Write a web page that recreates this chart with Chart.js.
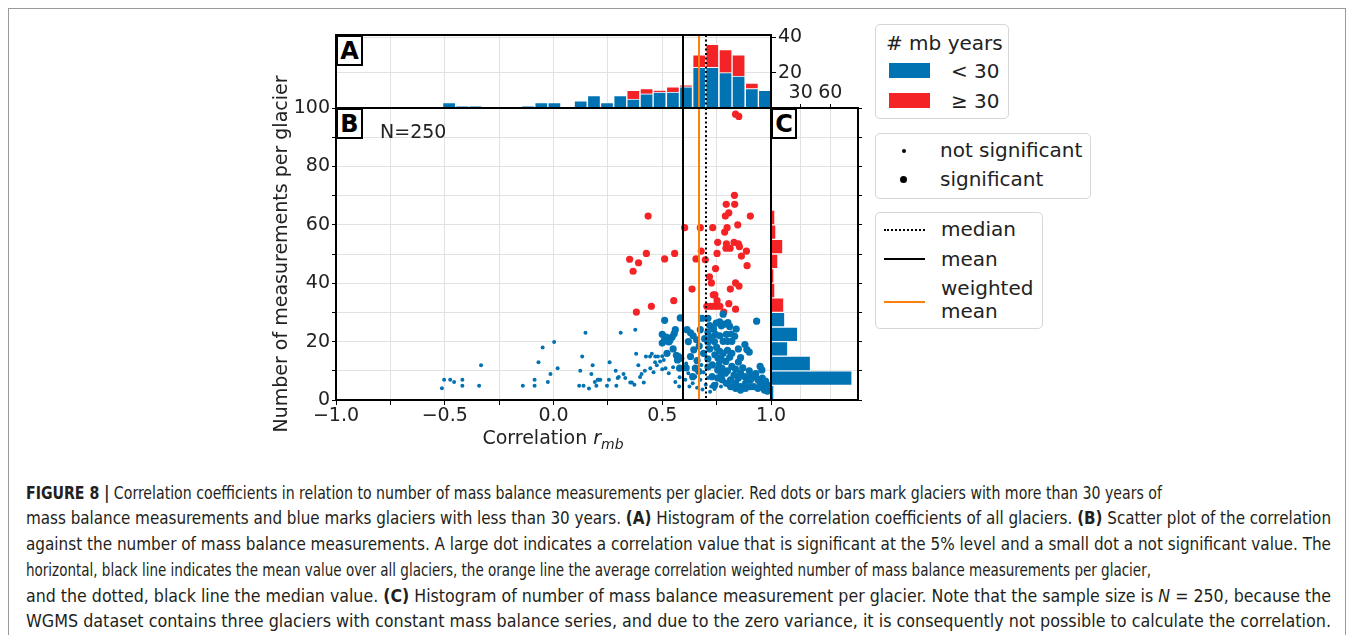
<!DOCTYPE html>
<html>
<head>
<meta charset="utf-8">
<script src="https://cdn.jsdelivr.net/npm/chart.js@4.4.1/dist/chart.umd.min.js"></script>
<style>
  body { margin: 0; background: #fff; }
  #page { position: relative; width: 1354px; height: 635px; overflow: hidden; font-family: "DejaVu Sans", sans-serif; color: #222; }
  .frame { position: absolute; left: 8px; top: 8px; width: 1336px; height: 660px; border: 1px solid #9a9a9a; }
  canvas { position: absolute; }
  .panel { position: absolute; background: #fff; border: 2px solid #000; box-sizing: border-box; font-weight: bold; font-size: 24px; color: #000; text-align: center; }
  .legend { position: absolute; border: 1px solid #d6d6d6; border-radius: 5px; background: #fff; box-sizing: border-box; }
  .lt { position: absolute; font-size: 20px; line-height: 22px; white-space: nowrap; color: #222; }
  .patch { position: absolute; width: 41px; height: 15px; }
  .dot { position: absolute; border-radius: 50%; background: #000; }
  .ln { position: absolute; width: 41px; height: 0; }
  .cap { position: absolute; left: 26px; font-family: "Liberation Sans Narrow", "DejaVu Sans Condensed", "Liberation Sans", sans-serif; font-size: 17px; color: #231f20; white-space: nowrap; transform-origin: 0 50%; }
</style>
</head>
<body>
<div id="page">
  <div class="frame"></div>
  <canvas id="histA" width="600" height="95" style="left:240px;top:20px"></canvas>
  <canvas id="scatterB" width="551" height="390" style="left:240px;top:50px"></canvas>
  <canvas id="histC" width="110" height="335" style="left:765px;top:70px"></canvas>

  <div class="panel" style="left:336px;top:35px;width:27px;height:31px;line-height:28px">A</div>
  <div class="panel" style="left:336px;top:108px;width:27px;height:31px;line-height:28px">B</div>
  <div class="panel" style="left:771px;top:108px;width:26px;height:31px;line-height:28px">C</div>
  <div class="lt" style="left:380px;top:120px;font-size:19px">N=250</div>

  <div id="xTitle" class="lt" style="left:453px;top:426px;width:200px;text-align:center;font-size:19px">Correlation <i>r</i><sub style="font-size:14px;font-style:italic">mb</sub></div>

  <div class="legend" style="left:875px;top:24px;width:134px;height:95px">
    <div class="lt" style="left:10px;top:7px"># mb years</div>
    <div class="patch" style="left:13px;top:38px;background:#0173b2"></div>
    <div class="lt" style="left:75px;top:35px">&lt; 30</div>
    <div class="patch" style="left:13px;top:68px;background:#f42326"></div>
    <div class="lt" style="left:75px;top:65px">&ge; 30</div>
  </div>

  <div class="legend" style="left:875px;top:133px;width:216px;height:66px">
    <div class="dot" style="left:26px;top:15px;width:4px;height:4px"></div>
    <div class="lt" style="left:64px;top:5px">not significant</div>
    <div class="dot" style="left:24px;top:42px;width:7px;height:7px"></div>
    <div class="lt" style="left:64px;top:34px">significant</div>
  </div>

  <div class="legend" style="left:875px;top:212px;width:168px;height:117px">
    <div class="ln" style="left:8px;top:16px;border-top:2px dotted #000"></div>
    <div class="lt" style="left:65px;top:5px">median</div>
    <div class="ln" style="left:8px;top:45px;border-top:2px solid #000"></div>
    <div class="lt" style="left:65px;top:35px">mean</div>
    <div class="ln" style="left:8px;top:88px;border-top:2px solid #ff7f0e"></div>
    <div class="lt" style="left:65px;top:64px">weighted</div>
    <div class="lt" style="left:65px;top:87px">mean</div>
  </div>

  <div class="cap" data-w="1136" style="top:483px"><b>FIGURE 8 |</b> Correlation coefficients in relation to number of mass balance measurements per glacier. Red dots or bars mark glaciers with more than 30 years of</div>
  <div class="cap" data-w="1305" style="top:508px">mass balance measurements and blue marks glaciers with less than 30 years. <b>(A)</b> Histogram of the correlation coefficients of all glaciers. <b>(B)</b> Scatter plot of the correlation</div>
  <div class="cap" data-w="1305" style="top:534px">against the number of mass balance measurements. A large dot indicates a correlation value that is significant at the 5% level and a small dot a not significant value. The</div>
  <div class="cap" data-w="1125" style="top:560px">horizontal, black line indicates the mean value over all glaciers, the orange line the average correlation weighted number of mass balance measurements per glacier,</div>
  <div class="cap" data-w="1305" style="top:586px">and the dotted, black line the median value. <b>(C)</b> Histogram of number of mass balance measurement per glacier. Note that the sample size is <i>N</i> = 250, because the</div>
  <div class="cap" data-w="1305" style="top:611px">WGMS dataset contains three glaciers with constant mass balance series, and due to the zero variance, it is consequently not possible to calculate the correlation.</div>
</div>

<script>
// colours
const BLUE = "#0173b2";
const RED = "#f42326";
const ORANGE = "#ff7f0e";
const GRID = "#e2e2e2";
const TXT = "#222";

// panel A: histogram of correlation (bin centres, counts per group)
const binCentersA = [-0.480, -0.419, -0.359, -0.298, -0.238, -0.177, -0.117, -0.056, 0.004, 0.065,
  0.125, 0.186, 0.246, 0.307, 0.367, 0.428, 0.488, 0.549, 0.609, 0.670, 0.730, 0.791, 0.851, 0.912, 0.972];
const blueCountsA = [3, 1, 1, 0, 0, 0, 1, 3, 3, 0, 4, 7, 3, 7, 5, 8, 9, 9, 12, 23, 23, 20, 18, 11, 10];
const redCountsA  = [0, 0, 0, 0, 0, 0, 0, 0, 0, 0, 0, 0, 0, 0, 5, 3, 1, 3, 1, 7, 13, 13, 12, 3, 0];
const histATicks = [20, 40];

// panel C: histogram of number of measurements
const binCentersC = [2.5, 7.5, 12.5, 17.5, 22.5, 27.5, 32.5, 37.5, 42.5, 47.5,
  52.5, 57.5, 62.5, 67.5, 72.5, 77.5, 82.5, 87.5, 92.5, 97.5];
const blueCountsC = [3, 82, 40, 17, 27, 14, 0, 0, 0, 0, 0, 0, 0, 0, 0, 0, 0, 0, 0, 0];
const redCountsC  = [0, 0, 0, 0, 0, 0, 13, 4, 3, 7, 12, 5, 4, 1, 0, 0, 0, 0, 0, 2];
const histCTicks = [30, 60];

// summary lines
const meanR = 0.597;
const weightedMeanR = 0.668;
const medianR = 0.699;

// panel B: [correlation, number of measurements]
const blueNotSig = [
  [-0.513, 4.0], [-0.503, 6.9], [-0.475, 6.9], [-0.457, 6.2], [-0.419, 6.9], [-0.419, 4.9], [-0.342, 4.9], [-0.333, 11.9],
  [-0.141, 4.9], [-0.087, 6.9], [-0.087, 4.9], [-0.069, 12.9], [-0.05, 18], [-0.026, 6.2], [-0.014, 8.9], [0.003, 19.9], [0.019, 10.9],
  [0.118, 4.9], [0.123, 10], [0.132, 14.9], [0.138, 4.9], [0.147, 23], [0.163, 3.9], [0.174, 8.9], [0.18, 11.9], [0.19, 6.2],
  [0.197, 4.9], [0.203, 6.9], [0.215, 6.9], [0.208, 6.9], [0.246, 4.9], [0.255, 6.9], [0.258, 12.9], [0.286, 10], [0.289, 4.9],
  [0.295, 7.5], [0.30, 7.9], [0.309, 23], [0.322, 8.9], [0.33, 7.5], [0.353, 6], [0.36, 6], [0.372, 5.2], [0.376, 24.1],
  [0.38, 15.8], [0.39, 11.9], [0.398, 7.9], [0.405, 8.9], [0.415, 6], [0.42, 10], [0.425, 14.9], [0.445, 10.9], [0.444, 14.9],
  [0.452, 15.8], [0.468, 14.9], [0.48, 14.9], [0.467, 12.9], [0.475, 11.9], [0.46, 9.5], [0.507, 13.7], [0.515, 10.9], [0.5, 15],
  [0.53, 9.2], [0.55, 11.2], [0.56, 6.2], [0.578, 4.6], [0.606, 6.9], [0.62, 9.2], [0.625, 4.6], [0.64, 5.7], [0.652, 8.0],
  [0.66, 4.2], [0.675, 6.9], [0.685, 3.6], [0.69, 9.5], [0.70, 5.2], [0.71, 7.5], [0.725, 4.6], [0.74, 3.8], [0.75, 5.5],
  [0.77, 4.6], [0.49, 13.2], [0.50, 10.5], [0.58, 7.8], [0.61, 12.5], [0.68, 12], [0.72, 2.8]
];
const blueSig = [
  [0.511, 27.3], [0.583, 28.1], [0.56, 24.1], [0.555, 22.7], [0.545, 21.5], [0.535, 20.4], [0.511, 20.6], [0.518, 21.5],
  [0.53, 19.9], [0.50, 19.5], [0.522, 16], [0.575, 14.9], [0.57, 13.7], [0.585, 14.3], [0.565, 15.3], [0.58, 10.9], [0.55, 17.5], [0.50, 22.5],
  [0.614, 24.1], [0.63, 23], [0.642, 22], [0.658, 20.6], [0.675, 24.1], [0.683, 28], [0.645, 17.2], [0.63, 14.9], [0.652, 10.9],
  [0.668, 9.8], [0.62, 20], [0.66, 13.5], [0.69, 16], [0.695, 21], [0.67, 18.5], [0.61, 11], [0.64, 8],
  [0.71, 28], [0.718, 25.5], [0.71, 23.2], [0.71, 19.8], [0.718, 17.5], [0.71, 14.1], [0.71, 11.3], [0.736, 24.3], [0.748, 26.3],
  [0.764, 26.8], [0.78, 29.4], [0.772, 25.4], [0.787, 26], [0.802, 26.5], [0.81, 25.2], [0.817, 22.6], [0.833, 21.8], [0.84, 24.3],
  [0.78, 20.1], [0.80, 20.1], [0.82, 20.1], [0.764, 16.7], [0.757, 14.3], [0.772, 13.8], [0.792, 13.2], [0.81, 14.6], [0.742, 15.5],
  [0.889, 17.3], [0.90, 16.4], [0.934, 27], [0.95, 11.5], [0.958, 10.3],
  [0.755, 10.3], [0.775, 10.8], [0.80, 10], [0.837, 10.6], [0.86, 9.2],
  [0.729, 8.0], [0.755, 7.5], [0.775, 6.9], [0.795, 5.7], [0.814, 6.9], [0.837, 5.9], [0.86, 4.6], [0.883, 5.7], [0.906, 6.9],
  [0.929, 8.0], [0.949, 6.2], [0.967, 5.7], [0.979, 4.6], [0.955, 4.6], [0.921, 4.6],
  [0.814, 4.6], [0.837, 4.0], [0.86, 3.4], [0.883, 4.0], [0.906, 4.6], [0.94, 4.0], [0.97, 3.4], [0.985, 3.0], [0.99, 5.0],
  [0.995, 3.8], [0.975, 6.5], [0.96, 7.5], [0.94, 6.9], [0.91, 8.5], [0.88, 8], [0.85, 7.5], [0.83, 8.5], [0.79, 9.2], [0.77, 8.5],
  [0.74, 5], [0.73, 12], [0.76, 12], [0.80, 17], [0.82, 16], [0.85, 13], [0.87, 11], [0.90, 10], [0.93, 9], [0.86, 14.5],
  [0.82, 11.5], [0.78, 16], [0.74, 20], [0.725, 21.5], [0.85, 17.5], [0.88, 19], [0.795, 22.5], [0.765, 22], [0.75, 18], [0.745, 22.5]
];
const redSig = [
  [0.837, 97.9], [0.852, 97.1], [0.832, 70.1], [0.794, 67], [0.833, 67], [0.435, 63], [0.806, 64.1], [0.79, 63], [0.905, 63],
  [0.603, 59], [0.675, 59], [0.732, 59], [0.798, 59], [0.787, 57.5], [0.847, 60], [0.755, 54], [0.795, 53.5], [0.83, 54],
  [0.85, 53.5], [0.793, 52], [0.812, 52], [0.855, 52.5], [0.887, 51], [0.752, 50.2], [0.679, 51], [0.864, 49.3], [0.427, 50.2],
  [0.557, 50.2], [0.35, 48.2], [0.511, 48.3], [0.655, 48.3], [0.698, 48], [0.391, 47], [0.366, 44.1], [0.89, 46], [0.745, 45],
  [0.717, 42.2], [0.726, 40.1], [0.637, 38], [0.735, 36], [0.742, 36], [0.813, 38], [0.837, 40.1], [0.853, 39], [0.45, 32.1],
  [0.553, 34], [0.752, 34], [0.806, 33], [0.381, 30.1], [0.705, 32.1], [0.72, 32.1], [0.735, 32.1], [0.75, 32.1], [0.765, 32.1],
  [0.783, 30.1], [0.837, 31.1]
];

const FONT = { family: "DejaVu Sans", size: 19 };

function toXY(list) {
  return list.map(p => ({ x: p[0], y: p[1] }));
}

function fmtCorr(v) {
  if (Math.abs(v * 2 - Math.round(v * 2)) > 1e-6) return "";
  return v.toFixed(1).replace("-", "\u2212");
}

function noPad(s) {
  s.paddingLeft = 0; s.paddingRight = 0; s.paddingTop = 0; s.paddingBottom = 0;
}

// black box round the plot area
const framePlugin = {
  id: "frame",
  afterDraw(chart) {
    const { ctx, chartArea } = chart;
    ctx.save();
    ctx.strokeStyle = "#000";
    ctx.lineWidth = 2;
    ctx.strokeRect(chartArea.left, chartArea.top, chartArea.right - chartArea.left, chartArea.bottom - chartArea.top);
    ctx.restore();
  }
};

// mean / weighted mean / median verticals
const refLinePlugin = {
  id: "refLines",
  afterDatasetsDraw(chart) {
    const { ctx, chartArea } = chart;
    const xs = chart.scales.x;
    const lines = [
      { v: meanR, color: "#000", dash: [] },
      { v: weightedMeanR, color: ORANGE, dash: [] },
      { v: medianR, color: "#000", dash: [2, 2.5] }
    ];
    ctx.save();
    lines.forEach(l => {
      const px = Math.round(xs.getPixelForValue(l.v));
      ctx.beginPath();
      ctx.strokeStyle = l.color;
      ctx.lineWidth = 2;
      ctx.setLineDash(l.dash);
      ctx.moveTo(px, chartArea.top);
      ctx.lineTo(px, chartArea.bottom);
      ctx.stroke();
    });
    ctx.restore();
  }
};

function renderHistA() {
  const ctx = document.getElementById("histA").getContext("2d");
  new Chart(ctx, {
    type: "bar",
    data: {
      datasets: [
        { label: "< 30", data: binCentersA.map((x, i) => ({ x, y: blueCountsA[i] || null })),
          backgroundColor: BLUE, borderColor: "rgba(255,255,255,0.6)", borderWidth: 1 },
        { label: "\u2265 30", data: binCentersA.map((x, i) => ({ x, y: redCountsA[i] || null })),
          backgroundColor: RED, borderColor: "rgba(255,255,255,0.6)", borderWidth: 1 }
      ]
    },
    options: {
      responsive: false,
      animation: false,
      layout: { padding: { left: 96, top: 15, right: 0, bottom: 7 } },
      plugins: { legend: { display: false }, tooltip: { enabled: false } },
      datasets: { bar: { categoryPercentage: 1, barPercentage: 1 } },
      scales: {
        x: {
          type: "linear", min: -1, max: 1, stacked: true, offset: false,
          ticks: { display: false, stepSize: 0.25 },
          grid: { color: GRID, drawTicks: false, offset: false },
          border: { display: false },
          afterFit: s => { s.height = 0; noPad(s); }
        },
        y: {
          position: "right", min: 0, max: 41.2, stacked: true,
          ticks: { stepSize: 20, includeBounds: false, font: FONT, color: TXT, padding: 2,
            callback: v => histATicks.includes(v) ? v : "" },
          grid: { color: GRID, tickColor: "#000", tickLength: 5 },
          border: { display: false },
          afterFit: s => { s.width = 69; noPad(s); }
        }
      }
    },
    plugins: [refLinePlugin, framePlugin]
  });
}

function renderScatterB() {
  const ctx = document.getElementById("scatterB").getContext("2d");
  new Chart(ctx, {
    type: "scatter",
    data: {
      datasets: [
        { label: "not significant", data: toXY(blueNotSig), backgroundColor: BLUE, pointRadius: 2, borderWidth: 0 },
        { label: "significant", data: toXY(blueSig), backgroundColor: BLUE, pointRadius: 3.6, borderWidth: 0 },
        { label: "significant \u2265 30", data: toXY(redSig), backgroundColor: RED, pointRadius: 3.6, borderWidth: 0 }
      ]
    },
    options: {
      responsive: false,
      animation: false,
      layout: { padding: { left: 27, top: 58, right: 20, bottom: 0 } },
      plugins: { legend: { display: false }, tooltip: { enabled: false } },
      scales: {
        x: {
          type: "linear", min: -1, max: 1,
          ticks: { stepSize: 0.25, font: FONT, color: TXT, padding: 0, maxRotation: 0, autoSkip: false, callback: fmtCorr },
          grid: { color: GRID, tickColor: "#000", tickLength: 5 },
          border: { display: false },
          afterFit: s => { s.height = 40; noPad(s); }
        },
        y: {
          type: "linear", min: 0, max: 100,
          ticks: { stepSize: 10, font: FONT, color: TXT, padding: 2, autoSkip: false,
            callback: v => v % 20 === 0 ? v : "" },
          grid: { color: GRID, tickColor: "#000", tickLength: 4 },
          border: { display: false },
          title: { display: true, text: "Number of measurements per glacier", font: FONT, color: TXT, padding: { top: 4, bottom: 4 } },
          afterFit: s => { s.width = 69; noPad(s); }
        }
      }
    },
    plugins: [refLinePlugin, framePlugin]
  });
}

function renderHistC() {
  const ctx = document.getElementById("histC").getContext("2d");
  new Chart(ctx, {
    type: "bar",
    data: {
      datasets: [
        { label: "< 30", data: binCentersC.map((y, i) => ({ y, x: blueCountsC[i] || null })),
          backgroundColor: BLUE, borderColor: "rgba(255,255,255,0.6)", borderWidth: 1 },
        { label: "\u2265 30", data: binCentersC.map((y, i) => ({ y, x: redCountsC[i] || null })),
          backgroundColor: RED, borderColor: "rgba(255,255,255,0.6)", borderWidth: 1 }
      ]
    },
    options: {
      indexAxis: "y",
      responsive: false,
      animation: false,
      layout: { padding: { left: 6, top: 0, right: 0, bottom: 5 } },
      plugins: { legend: { display: false }, tooltip: { enabled: false } },
      datasets: { bar: { categoryPercentage: 1, barPercentage: 1 } },
      scales: {
        x: {
          type: "linear", position: "top", min: 0, max: 88, stacked: true,
          ticks: { stepSize: 30, includeBounds: false, font: FONT, color: TXT, padding: 0, maxRotation: 0,
            callback: v => histCTicks.includes(v) ? v : "" },
          grid: { color: GRID, tickColor: "#000", tickLength: 4 },
          border: { display: false },
          afterFit: s => { s.height = 38; noPad(s); }
        },
        y: {
          type: "linear", position: "right", min: 0, max: 100, stacked: true, offset: false,
          ticks: { display: false, stepSize: 10 },
          grid: { color: GRID, tickColor: "#000", tickLength: 4, offset: false },
          border: { display: false },
          afterFit: s => { s.width = 17; noPad(s); }
        }
      }
    },
    plugins: [framePlugin]
  });
}

// stretch or squeeze each caption line to its width in the figure
function fitCaption() {
  document.querySelectorAll(".cap").forEach(el => {
    const target = +el.dataset.w;
    const natural = el.getBoundingClientRect().width;
    el.style.transform = "scaleX(" + (target / natural) + ")";
  });
}

renderHistA();
renderScatterB();
renderHistC();
fitCaption();
</script>
</body>
</html>
